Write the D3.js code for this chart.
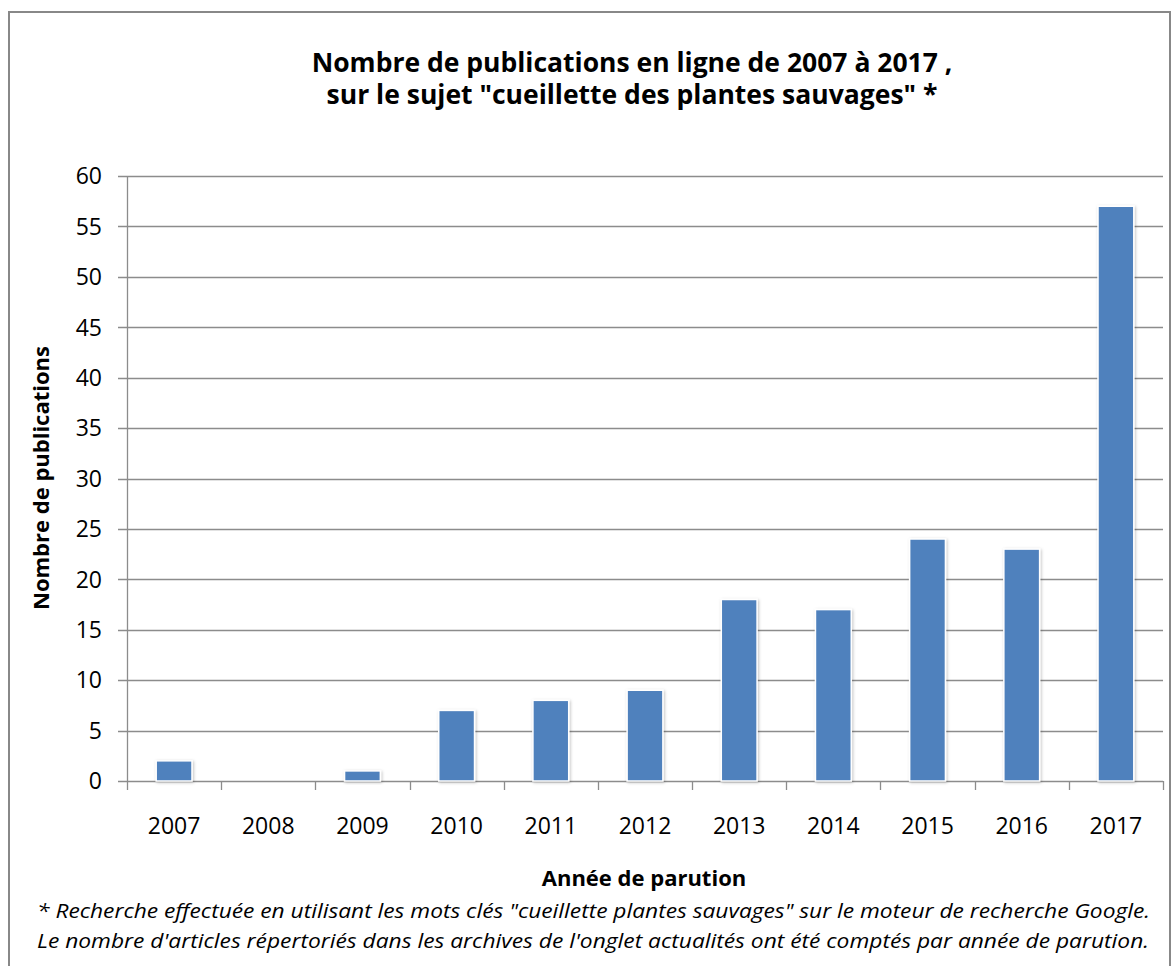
<!DOCTYPE html>
<html>
<head>
<meta charset="utf-8">
<script src="https://cdn.jsdelivr.net/npm/d3@7"></script>
<style>
  body { margin: 0; background: #fff; }
  svg text { font-family: "Open Sans", "Noto Sans", sans-serif; fill: #000; }
</style>
</head>
<body>
<div id="chart"></div>
<script>
// data
var years = ["2007", "2008", "2009", "2010", "2011", "2012", "2013", "2014", "2015", "2016", "2017"];
var publications = [2, 0, 1, 7, 8, 9, 18, 17, 24, 23, 57];
var yTicks = [0, 5, 10, 15, 20, 25, 30, 35, 40, 45, 50, 55, 60];

var width = 1173, height = 966;

var svg = d3.select("#chart")
  .append("svg")
  .attr("width", width)
  .attr("height", height);

// drop shadow for bars
var defs = svg.append("defs");
var filt = defs.append("filter").attr("id", "shadow")
  .attr("x", "-30%").attr("y", "-30%").attr("width", "160%").attr("height", "160%");
filt.append("feDropShadow")
  .attr("dx", 1).attr("dy", 1).attr("stdDeviation", 1.5)
  .attr("flood-color", "#000").attr("flood-opacity", 0.25);

// frame
svg.append("rect")
  .attr("x", 9).attr("y", 12)
  .attr("width", 1161).attr("height", 960)
  .attr("fill", "none")
  .attr("stroke", "#888")
  .attr("stroke-width", 2);

var x = d3.scaleBand()
  .domain(years)
  .range([127, 1163])
  .paddingInner(0.62)
  .paddingOuter(0.31);

var y = d3.scaleLinear()
  .domain([0, 60])
  .range([781, 176]);

// gridlines
svg.append("g")
  .selectAll("line")
  .data(yTicks)
  .enter()
  .append("line")
  .attr("x1", 118)
  .attr("x2", 1163)
  .attr("y1", function (d) { return Math.round(y(d)) + 0.5 })
  .attr("y2", function (d) { return Math.round(y(d)) + 0.5 })
  .attr("stroke", "#8c8c8c")
  .attr("stroke-width", 1.3);

// y axis line
svg.append("line")
  .attr("x1", 127.5).attr("x2", 127.5)
  .attr("y1", 176).attr("y2", 781)
  .attr("stroke", "#8c8c8c").attr("stroke-width", 1.3);

// y tick labels
svg.append("g")
  .selectAll("text")
  .data(yTicks)
  .enter()
  .append("text")
  .attr("x", 102)
  .attr("y", function (d) { return y(d) })
  .attr("dy", "0.36em")
  .attr("text-anchor", "end")
  .style("font-size", "23px")
  .text(function (d) { return d });

// x ticks (between categories)
var xTickPos = years.map(function (d) { return x(d) - x.step() * x.paddingInner() / 2 });
xTickPos.push(1163);
xTickPos[0] = 127;
svg.append("g")
  .selectAll("line")
  .data(xTickPos)
  .enter()
  .append("line")
  .attr("x1", function (d) { return Math.round(d) + 0.5 })
  .attr("x2", function (d) { return Math.round(d) + 0.5 })
  .attr("y1", 781)
  .attr("y2", 790)
  .attr("stroke", "#8c8c8c").attr("stroke-width", 1.3);

// x tick labels
svg.append("g")
  .selectAll("text")
  .data(years)
  .enter()
  .append("text")
  .attr("x", function (d) { return x(d) + x.bandwidth() / 2 })
  .attr("y", 834)
  .attr("text-anchor", "middle")
  .style("font-size", "23px")
  .text(function (d) { return d });

// bars
svg.append("g")
  .selectAll("rect")
  .data(publications)
  .enter()
  .filter(function (d) { return d > 0 })
  .append("rect")
  .attr("x", function (d) { return x(years[publications.indexOf(d)]) })
  .attr("y", function (d) { return y(d) })
  .attr("width", x.bandwidth())
  .attr("height", function (d) { return y(0) - y(d) })
  .attr("fill", "#4f81bd")
  .attr("stroke", "#fff")
  .attr("stroke-width", 1.5)
  .attr("filter", "url(#shadow)");

// title (one text, two lines)
var title = svg.append("text")
  .attr("text-anchor", "middle")
  .style("font-size", "26.5px").style("font-weight", "bold");
title.append("tspan")
  .attr("x", 632).attr("y", 72)
  .text("Nombre de publications en ligne de 2007 à 2017 ,");
title.append("tspan")
  .attr("x", 632).attr("y", 104)
  .text("sur le sujet \"cueillette des plantes sauvages\" *");

// axis titles
svg.append("text")
  .attr("x", 644).attr("y", 886)
  .attr("text-anchor", "middle")
  .style("font-size", "22px").style("font-weight", "bold")
  .text("Année de parution");

svg.append("text")
  .attr("transform", "translate(49,478) rotate(-90)")
  .attr("text-anchor", "middle")
  .style("font-size", "22px").style("font-weight", "bold")
  .text("Nombre de publications");

// footnote
svg.append("text")
  .attr("x", 37).attr("y", 918)
  .style("font-size", "19.5px").style("font-style", "italic")
  .attr("textLength", 1113).attr("lengthAdjust", "spacingAndGlyphs")
  .text("* Recherche effectuée en utilisant les mots clés \"cueillette plantes sauvages\" sur le moteur de recherche Google.");
svg.append("text")
  .attr("x", 37).attr("y", 948)
  .style("font-size", "19.5px").style("font-style", "italic")
  .attr("textLength", 1112).attr("lengthAdjust", "spacingAndGlyphs")
  .text("Le nombre d'articles répertoriés dans les archives de l'onglet actualités ont été comptés par année de parution.");
</script>
</body>
</html>
